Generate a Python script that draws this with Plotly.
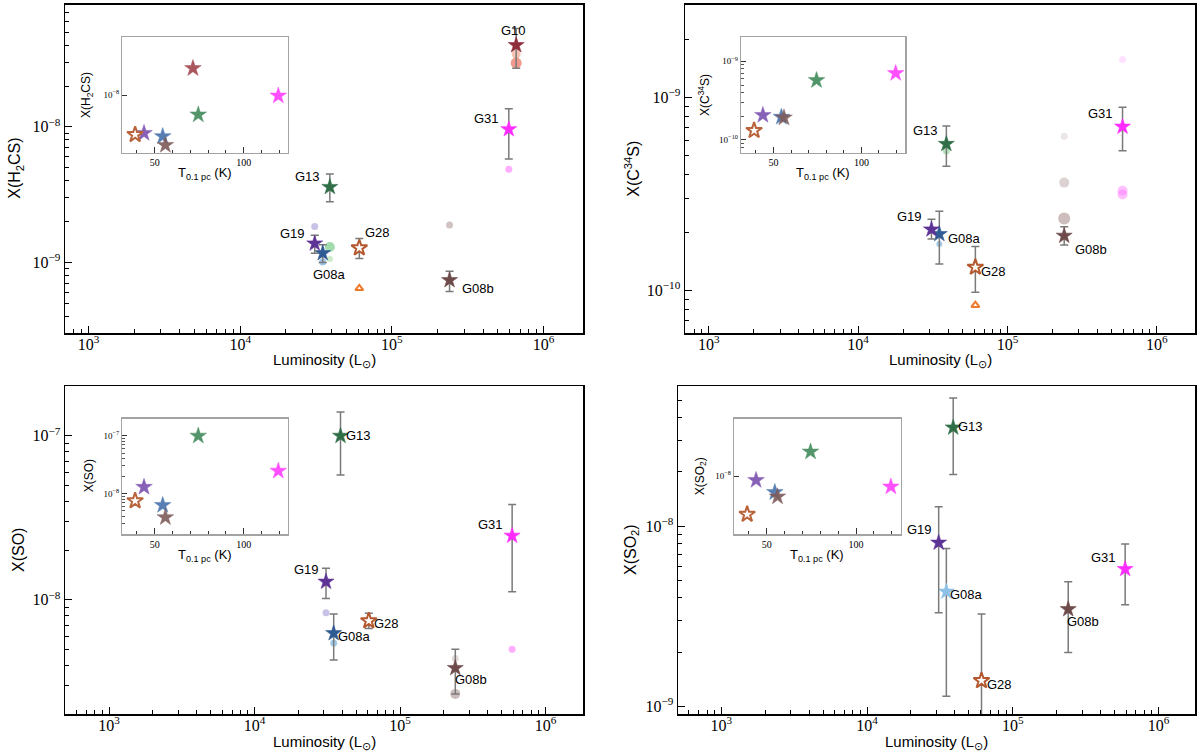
import numpy as np
import plotly.graph_objects as go

# ---------------- data ----------------
SOURCES = ["G08a", "G08b", "G10", "G13", "G19", "G28", "G31"]
LUMINOSITY = [3.5e4, 2.4e5, 6.6e5, 3.9e4, 3.1e4, 6.1e4, 5.9e5]      # L_sun
T_01PC = [54.5, 56.0, 71.5, 74.5, 44.0, 39.0, 119.5]                 # K

H2CS_VAL = [1.17e-9, 7.4e-10, 4.0e-8, 3.6e-9, 1.38e-9, 1.28e-9, 9.6e-9]
H2CS_HI = [1.35e-9, 8.6e-10, 5.3e-8, 4.5e-9, 1.59e-9, 1.50e-9, 1.36e-8]
H2CS_LO = [1.00e-9, 6.1e-10, 2.7e-8, 2.8e-9, 1.17e-9, 1.07e-9, 5.8e-9]

C34S_VAL = [1.96e-10, 1.92e-10, None, 5.74e-10, 2.07e-10, 1.32e-10, 7.05e-10]
C34S_HI = [2.57e-10, 2.14e-10, None, 7.1e-10, 2.34e-10, 1.69e-10, 8.9e-10]
C34S_LO = [1.37e-10, 1.72e-10, None, 4.4e-10, 1.85e-10, 9.8e-11, 5.3e-10]

SO_VAL = [6.26e-9, 3.84e-9, None, 1.0e-7, 1.29e-8, 7.45e-9, 2.46e-8]
SO_HI = [8.2e-9, 5.0e-9, None, 1.4e-7, 1.56e-8, 8.3e-9, 3.82e-8]
SO_LO = [4.3e-9, 2.67e-9, None, 5.77e-8, 1.02e-8, 6.7e-9, 1.12e-8]

SO2_VAL = [4.33e-9, 3.46e-9, None, 3.52e-8, 8.09e-9, 1.39e-9, 5.78e-9]
SO2_HI = [7.52e-9, 4.92e-9, None, 5.13e-8, 1.28e-8, 3.26e-9, 7.95e-9]
SO2_LO = [1.14e-9, 1.99e-9, None, 1.93e-8, 3.31e-9, 5.0e-10, 3.66e-9]

# other literature values (small dots) and limits (triangles)
H2CS_DOT_SRC = ["G19", "G13", "G13", "G08a", "G08b", "G31", "G10", "G10"]
H2CS_DOT_VAL = [1.84e-9, 1.30e-9, 1.06e-9, 1.01e-9, 1.89e-9, 4.87e-9, 3.44e-8, 2.95e-8]
C34S_DOT_SRC = ["G31", "G31", "G31", "G08b", "G08b", "G08b", "G13", "G08a"]
C34S_DOT_VAL = [1.57e-9, 3.29e-10, 3.14e-10, 6.3e-10, 3.62e-10, 2.36e-10, 5.27e-10, 1.74e-10]
SO_DOT_SRC = ["G19", "G08a", "G31", "G08b", "G08b"]
SO_DOT_VAL = [8.34e-9, 5.45e-9, 5.0e-9, 4.39e-9, 2.67e-9]
SO2_DOT_SRC = []
SO2_DOT_VAL = []
H2CS_TRI_SRC = ["G28"]
H2CS_TRI_VAL = [6.45e-10]
C34S_TRI_SRC = ["G28"]
C34S_TRI_VAL = [8.4e-11]

LUM_TICKS = [1e3, 1e4, 1e5, 1e6]
LUM_TICKTEXT = ["10<sup>3</sup>", "10<sup>4</sup>", "10<sup>5</sup>", "10<sup>6</sup>"]
T_TICKS = [50, 100]
T_TICKTEXT = ["50", "100"]

# ---------------- styles ----------------
STAR_COLORS = {"G08a": "#2f5b94", "G08b": "#6e4a4a", "G10": "#8f2d3a", "G13": "#2f6e47",
               "G19": "#5e3396", "G28": "#b4592f", "G31": "#ff2bff"}
INSET_COLORS = {"G08a": "#4672ab", "G08b": "#7f5a5a", "G10": "#a2434d", "G13": "#408a5a",
                "G19": "#7b50b0", "G28": "#b9643c", "G31": "#ff3cff"}
DOT_STYLE = {
    "H2CS": (["rgba(140,130,205,0.7)", "rgba(80,190,100,0.75)", "rgba(130,210,120,0.6)",
              "rgba(90,160,215,0.85)", "rgba(170,140,140,0.75)", "rgba(255,110,255,0.8)",
              "rgba(242,155,125,0.85)", "rgba(230,85,65,0.85)"],
             [7, 10, 6, 7, 7, 7, 9, 11]),
    "C34S": (["rgba(255,170,255,0.5)", "rgba(255,110,255,0.6)", "rgba(255,110,255,0.6)",
              "rgba(205,190,190,0.55)", "rgba(180,155,155,0.65)", "rgba(160,130,130,0.75)",
              "rgba(110,200,120,0.7)", "rgba(90,160,215,0.8)"],
             [7, 10, 10, 7, 10, 12, 7, 6]),
    "SO": (["rgba(140,130,205,0.7)", "rgba(90,160,215,0.8)", "rgba(255,110,255,0.8)",
            "rgba(190,170,170,0.6)", "rgba(160,130,130,0.75)"],
           [7, 7, 7, 7, 10]),
    "SO2": ([], []),
}

PANELS = [
    dict(key="H2CS", title="X(H<sub>2</sub>CS)", val=H2CS_VAL, hi=H2CS_HI, lo=H2CS_LO,
         dsrc=H2CS_DOT_SRC, dval=H2CS_DOT_VAL, tsrc=H2CS_TRI_SRC, tval=H2CS_TRI_VAL,
         px=(65, 583), py=(4.5, 333), xr=[2.845, 6.26], yr=[-9.52, -7.098],
         yt=[1e-9, 1e-8], ytt=["10<sup>−9</sup>", "10<sup>−8</sup>"],
         ifx=(0.111, 0.430), ify=(0.100, 0.451), ixr=[31.9, 124.8], iyr=[-9.30, -6.70],
         iyt=[1e-8], iytt=["10<sup>−8</sup>"], iminor=False,
         xt_y=361, yt_x=16, it_x=87, it_y=173,
         labels={"G10": (-3, 15), "G31": (-22, 11), "G13": (-22, 11), "G19": (-22, 10),
                 "G28": (18, 15), "G08a": (7, -21), "G08b": (28, -8)}),
    dict(key="C34S", title="X(C<sup>34</sup>S)", val=C34S_VAL, hi=C34S_HI, lo=C34S_LO,
         dsrc=C34S_DOT_SRC, dval=C34S_DOT_VAL, tsrc=C34S_TRI_SRC, tval=C34S_TRI_VAL,
         px=(685, 1195), py=(4.5, 333), xr=[2.841, 6.256], yr=[-10.22, -8.519],
         yt=[1e-10, 1e-9], ytt=["10<sup>−10</sup>", "10<sup>−9</sup>"],
         ifx=(0.1103, 0.4314), ify=(0.100, 0.451), ixr=[31.7, 124.8], iyr=[-10.161, -8.695],
         iyt=[1e-10, 1e-9], iytt=["10<sup>−10</sup>", "10<sup>−9</sup>"], iminor=True,
         xt_y=361, yt_x=632, it_x=704, it_y=173,
         labels={"G31": (-22, 13), "G13": (-21, 13), "G19": (-22, 13),
                 "G08a": (25, -4), "G08b": (27, -14), "G28": (18, -4)}),
    dict(key="SO", title="X(SO)", val=SO_VAL, hi=SO_HI, lo=SO_LO,
         dsrc=SO_DOT_SRC, dval=SO_DOT_VAL, tsrc=[], tval=[],
         px=(65, 583), py=(386, 714), xr=[2.697, 6.258], yr=[-8.696, -6.696],
         yt=[1e-8, 1e-7], ytt=["10<sup>−8</sup>", "10<sup>−7</sup>"],
         ifx=(0.111, 0.430), ify=(0.0994, 0.4513), ixr=[31.9, 124.8], iyr=[-8.705, -6.70],
         iyt=[1e-8, 1e-7], iytt=["10<sup>−8</sup>", "10<sup>−7</sup>"], iminor=True,
         xt_y=742, yt_x=18, it_x=89, it_y=555,
         labels={"G13": (18, 0), "G31": (-22, 11), "G19": (-20, 12), "G28": (18, -3),
                 "G08a": (21, -3), "G08b": (16, -11)}),
    dict(key="SO2", title="X(SO<sub>2</sub>)", val=SO2_VAL, hi=SO2_HI, lo=SO2_LO,
         dsrc=SO2_DOT_SRC, dval=SO2_DOT_VAL, tsrc=[], tval=[],
         px=(678, 1195), py=(386, 714), xr=[2.703, 6.25], yr=[-9.042, -7.223],
         yt=[1e-9, 1e-8], ytt=["10<sup>−9</sup>", "10<sup>−8</sup>"],
         ifx=(0.1089, 0.4304), ify=(0.0994, 0.4513), ixr=[31.8, 124.9], iyr=[-9.30, -6.709],
         iyt=[1e-8], iytt=["10<sup>−8</sup>"], iminor=False,
         xt_y=742, yt_x=631, it_x=701, it_y=555,
         main_override={"G08a": "#8cc0e6"},
         labels={"G13": (17, 1), "G19": (-19, 13), "G08a": (20, -3), "G31": (-22, 12),
                 "G08b": (15, -12), "G28": (18, -4)}),
]

W, H = 1200, 756
SERIF = "Liberation Serif"
SANS = "Liberation Sans"


def log_minor(lo_exp, hi_exp):
    return [m * 10.0 ** e for e in range(lo_exp, hi_exp + 1) for m in range(2, 10)]


def paper_text(text, px, py, size, angle=0):
    return dict(text=text, x=px / W, y=1 - py / H, xref="paper", yref="paper",
                xanchor="center", yanchor="middle", showarrow=False, textangle=angle,
                font=dict(family=SANS, size=size, color="black"))


fig = go.Figure()
layout = dict(width=W, height=H, margin=dict(l=0, r=0, t=0, b=0), autosize=False,
              paper_bgcolor="white", plot_bgcolor="white", showlegend=False,
              font=dict(family=SANS, color="black"))
annotations = []

for k, p in enumerate(PANELS, start=1):
    s = "" if k == 1 else str(k)
    si = str(k + 4)
    x0, x1 = p["px"]
    y0, y1 = p["py"]
    dom_x = [x0 / W, x1 / W]
    dom_y = [1 - y1 / H, 1 - y0 / H]
    pw, ph = dom_x[1] - dom_x[0], dom_y[1] - dom_y[0]
    idom_x = [dom_x[0] + p["ifx"][0] * pw, dom_x[0] + p["ifx"][1] * pw]
    idom_y = [dom_y[1] - p["ify"][1] * ph, dom_y[1] - p["ify"][0] * ph]

    layout["xaxis" + s] = dict(
        type="log", range=p["xr"], domain=dom_x, anchor="y" + s,
        showline=True, linecolor="black", linewidth=1.5, mirror=True,
        ticks="inside", ticklen=7, tickwidth=1, tickcolor="black",
        tickmode="array", tickvals=LUM_TICKS, ticktext=LUM_TICKTEXT,
        tickfont=dict(family=SERIF, size=16, color="black"), ticklabelstandoff=-4,
        minor=dict(ticks="inside", ticklen=4, tickwidth=1, tickcolor="black",
                   tickmode="array", tickvals=log_minor(2, 6), showgrid=False),
        showgrid=False, zeroline=False)
    layout["yaxis" + s] = dict(
        type="log", range=p["yr"], domain=dom_y, anchor="x" + s,
        showline=True, linecolor="black", linewidth=1.5, mirror=True,
        ticks="inside", ticklen=7, tickwidth=1, tickcolor="black",
        tickmode="array", tickvals=p["yt"], ticktext=p["ytt"],
        tickfont=dict(family=SERIF, size=16, color="black"),
        minor=dict(ticks="inside", ticklen=4, tickwidth=1, tickcolor="black",
                   tickmode="array", tickvals=log_minor(-12, -6), showgrid=False),
        showgrid=False, zeroline=False)

    layout["xaxis" + si] = dict(
        type="linear", range=p["ixr"], domain=idom_x, anchor="y" + si,
        showline=True, linecolor="#a3a3a3", linewidth=1.5, mirror=True,
        ticks="inside", ticklen=6, tickwidth=1, tickcolor="#333333",
        tickmode="array", tickvals=T_TICKS, ticktext=T_TICKTEXT,
        tickfont=dict(family=SERIF, size=10, color="black"),
        minor=dict(ticks="inside", ticklen=3, tickwidth=1, tickcolor="#333333",
                   tickmode="array", tickvals=[40, 60, 70, 80, 90, 110, 120], showgrid=False),
        showgrid=False, zeroline=False)
    iy = dict(
        type="log", range=p["iyr"], domain=idom_y, anchor="x" + si,
        showline=True, linecolor="#a3a3a3", linewidth=1.5, mirror=True,
        ticks="inside", ticklen=5, tickwidth=1, tickcolor="#333333",
        tickmode="array", tickvals=p["iyt"], ticktext=p["iytt"],
        tickfont=dict(family=SERIF, size=9, color="black"),
        showgrid=False, zeroline=False)
    if p["iminor"]:
        iy["minor"] = dict(ticks="inside", ticklen=2.5, tickwidth=1, tickcolor="#555555",
                           tickmode="array", tickvals=log_minor(-12, -6), showgrid=False)
    layout["yaxis" + si] = iy

    # axis titles
    annotations.append(paper_text("Luminosity (L<sub>⊙</sub>)", (x0 + x1) / 2, p["xt_y"], 15))
    annotations.append(paper_text(p["title"], p["yt_x"], (y0 + y1) / 2, 16, -90))
    ix0 = idom_x[0] * W
    ix1 = idom_x[1] * W
    iy0 = (1 - idom_y[1]) * H
    iy1 = (1 - idom_y[0]) * H
    annotations.append(paper_text("T<sub>0.1 pc</sub> (K)", (ix0 + ix1) / 2, p["it_y"], 13))
    annotations.append(paper_text(p["title"], p["it_x"], (iy0 + iy1) / 2, 12, -90))

    # other measurements (dots)
    dcols, dsizes = DOT_STYLE[p["key"]]
    if p["dval"]:
        fig.add_trace(go.Scatter(
            x=[LUMINOSITY[SOURCES.index(n)] for n in p["dsrc"]], y=p["dval"],
            mode="markers", xaxis="x" + s, yaxis="y" + s,
            marker=dict(symbol="circle", size=dsizes, color=dcols, line=dict(width=0))))
    if p["tval"]:
        fig.add_trace(go.Scatter(
            x=[LUMINOSITY[SOURCES.index(n)] for n in p["tsrc"]], y=p["tval"],
            mode="markers", xaxis="x" + s, yaxis="y" + s,
            marker=dict(symbol="triangle-up-open", size=7, color="#f07a2c",
                        line=dict(width=2, color="#f07a2c"))))

    # stars in main panel and inset
    override = p.get("main_override", {})
    for i, name in enumerate(SOURCES):
        v = p["val"][i]
        if v is None:
            continue
        col = override.get(name, STAR_COLORS[name])
        if name == "G28":
            mk = dict(symbol="star", size=12, color="white", line=dict(width=2, color=col))
            imk = dict(symbol="star", size=12, color="white",
                       line=dict(width=2, color=INSET_COLORS[name]))
        else:
            mk = dict(symbol="star", size=12, color=col, line=dict(width=0.6, color=col))
            imk = dict(symbol="star", size=12.5, color=INSET_COLORS[name], opacity=0.9,
                       line=dict(width=0.5, color=INSET_COLORS[name]))
        fig.add_trace(go.Scatter(
            x=[LUMINOSITY[i]], y=[v], mode="markers", xaxis="x" + s, yaxis="y" + s,
            marker=mk,
            error_y=dict(type="data", symmetric=False, array=[p["hi"][i] - v],
                         arrayminus=[v - p["lo"][i]], color="#7a7a7a", thickness=1.5, width=4)))
        fig.add_trace(go.Scatter(
            x=[T_01PC[i]], y=[v], mode="markers", xaxis="x" + si, yaxis="y" + si, marker=imk))
        dx, dy = p["labels"][name]
        annotations.append(dict(
            text=name, x=np.log10(LUMINOSITY[i]), y=np.log10(v), xref="x" + s, yref="y" + s,
            showarrow=False, xshift=dx, yshift=dy, font=dict(family=SANS, size=13, color="black")))

layout["annotations"] = annotations
fig.update_layout(**layout)
fig.write_html("out.html",
               config={"displayModeBar": False, "staticPlot": True},
               post_script="document.body.style.margin='0px';"
                           "document.body.style.overflow='hidden';")
